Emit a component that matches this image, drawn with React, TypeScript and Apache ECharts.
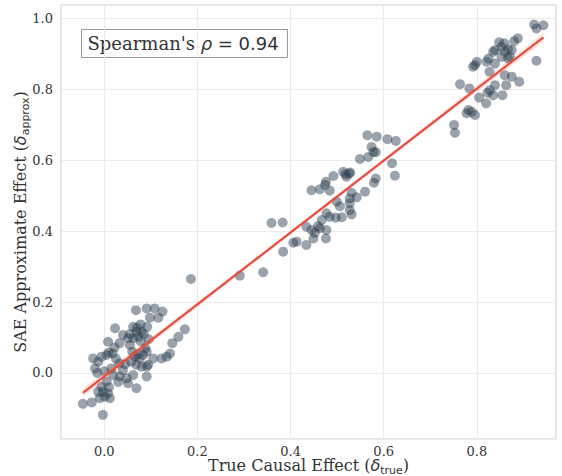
import React, { useEffect, useRef } from 'react';
import * as echarts from 'echarts';

// [true causal effect, SAE approximate effect]
const lowCluster: number[][] = [
  [0.068, 0.177], [0.091, 0.182], [0.108, 0.182], [0.125, 0.173], [0.098, 0.156], [0.116, 0.156],
  [0.078, 0.137], [0.092, 0.130], [0.062, 0.130], [0.069, 0.116], [0.080, 0.116], [0.023, 0.126],
  [0.040, 0.107], [0.051, 0.098], [0.062, 0.098], [0.073, 0.102], [0.033, 0.084], [0.008, 0.088],
  [0.055, 0.079], [0.173, 0.123], [0.159, 0.102], [0.146, 0.084], [0.141, 0.055], [0.123, 0.041],
  [0.134, 0.046], [0.091, 0.060], [0.083, 0.051], [0.076, 0.041], [0.066, 0.046], [0.058, 0.032],
  [0.069, 0.023], [0.094, 0.023], [0.080, 0.018], [0.010, 0.058], [0.005, 0.051], [-0.006, 0.046],
  [-0.013, 0.032], [-0.024, 0.041], [-0.020, 0.013], [0.015, 0.013], [0.040, 0.008], [0.033, -0.010],
  [0.048, -0.015], [0.062, -0.006], [0.051, -0.029], [0.069, -0.043], [0.091, -0.010], [0.091, 0.018],
  [0.019, -0.006], [0.005, -0.024], [-0.006, -0.039], [-0.013, -0.053], [-0.003, -0.053], [0.008, -0.057],
  [0.001, -0.067], [-0.010, -0.071], [0.012, -0.071], [-0.046, -0.087], [-0.027, -0.083], [-0.003, -0.118],
  [0.018, 0.055], [0.032, 0.027], [0.105, 0.041], [0.070, 0.128], [0.085, 0.110], [0.060, 0.060],
  [0.072, 0.052], [0.088, 0.070], [0.045, 0.025], [0.025, 0.040], [0.000, 0.005], [0.010, -0.040],
  [0.030, -0.025], [0.055, 0.110], [0.095, 0.095], [0.022, 0.072], [-0.015, 0.000], [0.078, 0.090],
  [0.186, 0.265],
];

const midCluster: number[][] = [
  [0.291, 0.274], [0.341, 0.284], [0.359, 0.423], [0.383, 0.424], [0.384, 0.342], [0.406, 0.367],
  [0.413, 0.370], [0.434, 0.361], [0.434, 0.412], [0.565, 0.670], [0.585, 0.666], [0.608, 0.659],
  [0.626, 0.654], [0.574, 0.637], [0.578, 0.623], [0.583, 0.622], [0.567, 0.609], [0.549, 0.603],
  [0.618, 0.591], [0.624, 0.556], [0.513, 0.567], [0.526, 0.562], [0.520, 0.553], [0.492, 0.555],
  [0.583, 0.548], [0.579, 0.536], [0.476, 0.539], [0.474, 0.530], [0.463, 0.518], [0.445, 0.515],
  [0.484, 0.514], [0.531, 0.508], [0.560, 0.511], [0.527, 0.492], [0.542, 0.495], [0.527, 0.478],
  [0.499, 0.483], [0.506, 0.470], [0.527, 0.459], [0.531, 0.447], [0.484, 0.440], [0.477, 0.450],
  [0.497, 0.438], [0.510, 0.439], [0.467, 0.431], [0.459, 0.414], [0.463, 0.408], [0.477, 0.403],
  [0.452, 0.395], [0.445, 0.403], [0.449, 0.379], [0.476, 0.379], [0.528, 0.565], [0.518, 0.560],
];

const highCluster: number[][] = [
  [0.923, 0.982], [0.943, 0.980], [0.928, 0.971], [0.888, 0.943], [0.880, 0.935], [0.848, 0.932],
  [0.859, 0.929], [0.853, 0.919], [0.867, 0.912], [0.875, 0.910], [0.839, 0.910], [0.835, 0.905],
  [0.860, 0.905], [0.853, 0.891], [0.871, 0.891], [0.825, 0.886], [0.821, 0.877], [0.839, 0.872],
  [0.800, 0.877], [0.796, 0.868], [0.792, 0.863], [0.928, 0.880], [0.827, 0.849], [0.860, 0.839],
  [0.875, 0.835], [0.863, 0.811], [0.891, 0.821], [0.839, 0.811], [0.828, 0.797], [0.835, 0.783],
  [0.823, 0.790], [0.855, 0.783], [0.764, 0.814], [0.784, 0.802], [0.805, 0.776], [0.820, 0.760],
  [0.782, 0.741], [0.778, 0.732], [0.789, 0.736], [0.796, 0.727], [0.867, 0.886], [0.751, 0.699],
  [0.753, 0.677],
];

// regression fit line and its confidence band
const fitX = [-0.046, 0.943];
const fitY = [-0.056, 0.946];
const bandX = [-0.046, 0.2, 0.45, 0.7, 0.943];
const bandLow = [-0.069, 0.186, 0.441, 0.693, 0.933];
const bandHigh = [-0.043, 0.2, 0.451, 0.707, 0.959];

const xRange = [-0.093, 0.97];
const yRange = [-0.186, 1.037];
const annotation = "Spearman's ";
const rhoValue = ' = 0.94';

const serif = 'DejaVu Serif';
const sans = 'DejaVu Sans';
const textColor = '#333333';

export default function App() {
  const ref = useRef<HTMLDivElement>(null);
  useEffect(() => {
    const chart = echarts.init(ref.current!, null, { renderer: 'svg' });
    const fmt = (v: number) => (Math.abs(v * 5 - Math.round(v * 5)) < 1e-6 ? v.toFixed(1) : '');
    const titleRich = {
      m: { fontFamily: serif, fontSize: 16, color: textColor, verticalAlign: 'bottom', padding: [0, 0, 3, 0] },
      d: { fontFamily: sans, fontStyle: 'italic', fontSize: 16, color: textColor, verticalAlign: 'bottom', padding: [0, 0, 3, 0] },
      s: { fontFamily: sans, fontSize: 11, color: textColor, verticalAlign: 'bottom' },
    };
    const allPoints = [...lowCluster, ...midCluster, ...highCluster];
    chart.setOption({
      animation: false,
      backgroundColor: '#ffffff',
      grid: {
        left: 61, top: 5, right: 6, bottom: 37, show: true,
        borderColor: '#cccccc', borderWidth: 1.2, backgroundColor: '#ffffff',
        containLabel: false, outerBoundsMode: 'none',
      },
      xAxis: {
        type: 'value', min: xRange[0], max: xRange[1], splitNumber: 5,
        axisLine: { show: false }, axisTick: { show: false },
        splitLine: { show: true, lineStyle: { color: '#ebebeb', width: 1 } },
        axisLabel: { formatter: fmt, fontFamily: serif, fontSize: 13, lineHeight: 13, color: textColor, margin: 6, showMinLabel: false, showMaxLabel: false },
        name: '{m|True Causal Effect (}{d|δ}{s|true}{m|)}',
        nameLocation: 'middle', nameGap: 18, nameMoveOverlap: false,
        nameTextStyle: { rich: titleRich },
      },
      yAxis: {
        type: 'value', min: yRange[0], max: yRange[1], splitNumber: 6,
        axisLine: { show: false }, axisTick: { show: false },
        splitLine: { show: true, lineStyle: { color: '#ebebeb', width: 1 } },
        axisLabel: { formatter: fmt, fontFamily: serif, fontSize: 13, color: textColor, margin: 8, showMinLabel: false, showMaxLabel: false },
        name: '{m|SAE Approximate Effect (}{d|δ}{s|approx}{m|)}',
        nameLocation: 'middle', nameGap: 30, nameMoveOverlap: false,
        nameTextStyle: { rich: titleRich },
      },
      series: [
        {
          type: 'scatter',
          data: allPoints,
          symbolSize: 10,
          itemStyle: { color: 'rgba(44,62,80,0.6)' },
          z: 2,
        },
        {
          type: 'custom',
          data: bandX.map((x, i) => [x, bandLow[i], bandHigh[i]]),
          renderItem: (params: any, api: any) => {
            if (params.dataIndex !== 0) return null;
            const upper = bandX.map((x, i) => api.coord([x, bandHigh[i]]));
            const lower = bandX.map((x, i) => api.coord([x, bandLow[i]])).reverse();
            return {
              type: 'polygon',
              shape: { points: [...upper, ...lower] },
              style: { fill: 'rgba(231,76,60,0.15)', stroke: 'none' },
            };
          },
          z: 3,
          silent: true,
        },
        {
          type: 'line',
          data: fitX.map((x, i) => [x, fitY[i]]),
          symbol: 'none',
          lineStyle: { color: '#e74c3c', width: 2.2 },
          z: 4,
          silent: true,
        },
      ],
      graphic: [
        {
          type: 'group', left: 81, top: 29,
          children: [
            { type: 'rect', shape: { x: 0, y: 0, width: 206, height: 28 }, style: { fill: '#ffffff', stroke: '#999999', lineWidth: 1 } },
            {
              type: 'text', x: 6, y: 14,
              style: {
                text: `{a|${annotation}}{b|ρ}{c|${rhoValue}}`,
                verticalAlign: 'middle',
                rich: {
                  a: { fontFamily: serif, fontSize: 18, fill: textColor },
                  b: { fontFamily: sans, fontStyle: 'italic', fontSize: 18, fill: textColor },
                  c: { fontFamily: sans, fontSize: 18, fill: textColor },
                },
              },
            },
          ],
        },
      ],
    });
    return () => chart.dispose();
  }, []);
  return <div ref={ref} style={{ position: 'absolute', left: 0, top: 0, width: 562, height: 476 }} />;
}
